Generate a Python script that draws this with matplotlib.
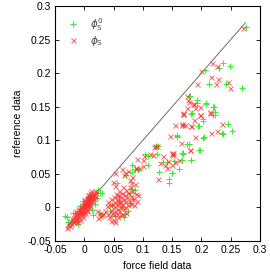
import matplotlib
matplotlib.use("Agg")
import matplotlib.pyplot as plt

# phi_S (red x): force field data (x) vs reference data (y)
phiS_ff = [
    -0.030, -0.027, -0.025, -0.024, -0.022, -0.021, -0.020, -0.019, -0.018, -0.017,
    -0.016, -0.015, -0.014, -0.013, -0.012, -0.011, -0.010, -0.009, -0.009, -0.008,
    -0.007, -0.006, -0.006, -0.005, -0.004, -0.004, -0.003, -0.002, -0.002, -0.001,
    0.000, 0.000, 0.001, 0.001, 0.002, 0.002, 0.003, 0.003, 0.004, 0.004,
    0.005, 0.005, 0.006, 0.006, 0.007, 0.007, 0.008, 0.008, 0.009, 0.009,
    0.010, 0.010, 0.011, 0.012, 0.012, 0.013, 0.014, 0.015, 0.016, 0.017,
    0.018, 0.019, 0.020, -0.003, 0.002, -0.012, 0.005, -0.008, -0.001, 0.003,
    -0.005, 0.007, 0.011, -0.015, 0.0, 0.004, 0.009, -0.010, 0.013, 0.006,
    0.026, 0.030, 0.021, 0.027, 0.032, 0.024,
    0.035, 0.038, 0.040, 0.041, 0.043, 0.044, 0.045, 0.046, 0.047, 0.048,
    0.049, 0.050, 0.050, 0.051, 0.052, 0.053, 0.054, 0.055, 0.055, 0.056,
    0.057, 0.058, 0.058, 0.059, 0.060, 0.060, 0.061, 0.062, 0.063, 0.064,
    0.065, 0.065, 0.066, 0.067, 0.068, 0.069, 0.070, 0.071, 0.072, 0.073,
    0.074, 0.075, 0.076, 0.078, 0.079, 0.080, 0.082, 0.084, 0.086, 0.088,
    0.046, 0.053, 0.062, 0.070, 0.057, 0.090, 0.092, 0.085,
    0.089, 0.067, 0.078, 0.0495, 0.064, 0.075, 0.0525, 0.052, 0.070, 0.081,
    0.079, 0.089, 0.101, 0.093, 0.090, 0.101, 0.113, 0.102, 0.118, 0.119,
    0.121, 0.124, 0.125, 0.129, 0.138, 0.135, 0.143, 0.149, 0.149, 0.150,
    0.152, 0.141, 0.146, 0.151, 0.155, 0.155, 0.161, 0.165, 0.166, 0.166,
    0.169, 0.169, 0.172, 0.180, 0.182, 0.180, 0.189, 0.189, 0.186, 0.178,
    0.198, 0.215, 0.217, 0.227, 0.235, 0.1822, 0.1878, 0.1878, 0.1976, 0.1976,
    0.2146, 0.1690, 0.1759, 0.1776, 0.1749, 0.1930, 0.2249, 0.2488, 0.2459, 0.2288,
    0.2163, 0.1988, 0.2175, 0.2261, 0.2715,
]
phiS_ref = [
    -0.030, -0.026, -0.028, -0.020, -0.024, -0.017, -0.021, -0.014, -0.018, -0.022,
    -0.012, -0.016, -0.010, -0.019, -0.013, -0.008, -0.011, -0.015, -0.005, -0.009,
    -0.003, -0.012, -0.006, -0.001, -0.008, 0.002, -0.004, 0.004, -0.010, 0.000,
    0.006, -0.005, 0.002, 0.009, -0.002, 0.005, 0.011, 0.001, 0.007, -0.004,
    0.013, 0.003, 0.009, 0.016, 0.005, 0.012, 0.019, 0.000, 0.010, 0.015,
    0.021, 0.006, 0.013, 0.018, 0.024, 0.009, 0.016, 0.022, 0.012, 0.019,
    0.025, 0.015, 0.021, -0.014, -0.008, -0.022, -0.006, -0.018, 0.003, 0.008,
    0.001, 0.014, 0.020, -0.006, 0.011, 0.004, 0.004, -0.002, 0.014, 0.019,
    -0.013, -0.012, -0.006, -0.009, -0.010, -0.016,
    -0.005, 0.002, -0.010, 0.008, -0.015, 0.003, -0.004, 0.012, -0.008, 0.005,
    -0.012, 0.015, 0.000, -0.018, 0.008, -0.005, 0.020, 0.003, -0.010, 0.012,
    -0.002, 0.018, -0.015, 0.006, 0.025, -0.006, 0.010, 0.001, 0.016, -0.010,
    0.022, 0.005, 0.030, -0.003, 0.013, 0.019, 0.008, 0.026, -0.008, 0.015,
    0.003, 0.022, 0.010, 0.030, 0.017, 0.005, 0.024, 0.012, 0.035, 0.020,
    -0.020, -0.022, -0.012, 0.000, 0.009, 0.010, 0.018, 0.004,
    0.058, 0.048, 0.041, 0.038, 0.057, 0.054, 0.032, 0.051, 0.051, 0.045,
    0.037, 0.058, 0.062, 0.059, 0.072, 0.071, 0.080, 0.076, 0.078, 0.090,
    0.091, 0.091, 0.043, 0.066, 0.063, 0.076, 0.069, 0.063, 0.081, 0.079,
    0.078, 0.058, 0.106, 0.081, 0.123, 0.067, 0.070, 0.096, 0.123, 0.124,
    0.139, 0.139, 0.123, 0.086, 0.121, 0.086, 0.148, 0.105, 0.154, 0.157,
    0.138, 0.141, 0.111, 0.114, 0.124, 0.1218, 0.1541, 0.1303, 0.1501, 0.1377,
    0.1426, 0.1402, 0.1477, 0.1600, 0.1660, 0.1834, 0.1834, 0.1775, 0.1873, 0.1913,
    0.1938, 0.2037, 0.2147, 0.2110, 0.2677,
]

# phi_S^0 (green +)
phiS0_ff = [
    -0.033, -0.030, -0.027, -0.022, -0.019, -0.016, -0.013, -0.010, -0.007, -0.002,
    -0.0017, 0.006, 0.0097, 0.0126, 0.015, 0.018, 0.021, 0.024, 0.027, 0.030,
    0.027, 0.044, 0.0524, 0.064, 0.0695, 0.075, 0.078, 0.078, 0.081, 0.084,
    0.087, 0.055, 0.072, 0.081, 0.092, 0.081, 0.060, 0.048, 0.068,
    0.087, 0.104, 0.109, 0.123, 0.124, 0.126, 0.128, 0.135, 0.141, 0.145,
    0.149, 0.149, 0.154, 0.158, 0.158, 0.159, 0.162, 0.166, 0.166, 0.168,
    0.169, 0.169, 0.175, 0.178, 0.178, 0.183, 0.183, 0.183, 0.196, 0.196,
    0.198, 0.203, 0.203, 0.204, 0.208, 0.220, 0.223, 0.236, 0.246, 0.252,
    0.1930, 0.1919, 0.2078, 0.2220, 0.2232, 0.2203, 0.2032, 0.1834, 0.1947, 0.2356,
    0.2129, 0.2414, 0.2687, 0.2373, 0.2488, 0.2305, 0.206, 0.180, 0.276, 0.145,
    0.109,
]
phiS0_ref = [
    -0.013, -0.014, -0.021, -0.021, -0.008, -0.009, -0.020, -0.024, 0.002, 0.010,
    0.0096, 0.016, 0.017, -0.004, -0.011, 0.0046, 0.0145, 0.026, 0.022, 0.022,
    -0.010, -0.005, -0.0128, 0.001, -0.010, -0.006, 0.007, 0.021, 0.027, 0.012,
    0.026, 0.036, 0.048, 0.053, 0.055, 0.063, 0.016, 0.004, -0.014,
    0.057, 0.079, 0.063, 0.091, 0.079, 0.091, 0.053, 0.067, 0.068, 0.043,
    0.051, 0.051, 0.069, 0.105, 0.108, 0.106, 0.057, 0.081, 0.071, 0.080,
    0.081, 0.123, 0.095, 0.095, 0.166, 0.139, 0.070, 0.071, 0.121, 0.086,
    0.086, 0.129, 0.104, 0.105, 0.154, 0.149, 0.138, 0.110, 0.124, 0.114,
    0.1600, 0.1560, 0.1551, 0.1492, 0.1426, 0.1377, 0.1313, 0.1402, 0.1218, 0.1105,
    0.1834, 0.1834, 0.1775, 0.2156, 0.2111, 0.2072, 0.204, 0.166, 0.268, 0.037,
    0.076,
]

diag = [-0.03, 0.275]

plt.rcParams['font.family'] = ['Liberation Sans', 'DejaVu Sans']
fig = plt.figure(figsize=(2.70, 2.72), dpi=100)
ax = fig.add_axes([0.2037, 0.114, 0.7593, 0.864])

ax.plot(diag, diag, color='#555555', lw=0.6, zorder=1)
ax.plot(phiS0_ff, phiS0_ref, ls='none', marker='+', ms=4.2, mew=0.7,
        color='#30f030', label=r'$\phi_{\mathrm{S}}^{0}$', zorder=2)
ax.plot(phiS_ff, phiS_ref, ls='none', marker='x', ms=3.6, mew=0.7,
        color='#ff3030', alpha=0.75, label=r'$\phi_{\mathrm{S}}$', zorder=3)

ticks = [-0.05, 0, 0.05, 0.1, 0.15, 0.2, 0.25, 0.3]
ticklabels = ['-0.05', '0', '0.05', '0.1', '0.15', '0.2', '0.25', '0.3']
ax.set_xlim(-0.05, 0.3)
ax.set_ylim(-0.05, 0.3)
ax.set_xticks(ticks)
ax.set_xticklabels(ticklabels)
ax.set_yticks(ticks)
ax.set_yticklabels(ticklabels)
ax.tick_params(direction='in', top=True, right=True, length=3, width=0.6,
               labelsize=7.5, pad=3)
for s in ax.spines.values():
    s.set_linewidth(0.8)

ax.set_xlabel('force field data', fontsize=7.5, labelpad=4)
ax.set_ylabel('reference data', fontsize=7.5, labelpad=3)

leg = ax.legend(loc='upper left', frameon=False, fontsize=7.5,
                bbox_to_anchor=(0.03, 0.985), handlelength=1.0,
                handletextpad=1.2, labelspacing=0.1, borderaxespad=0.2)
for t in leg.get_texts():
    t.set_color('#444444')

fig.savefig('out.png', dpi=100)
